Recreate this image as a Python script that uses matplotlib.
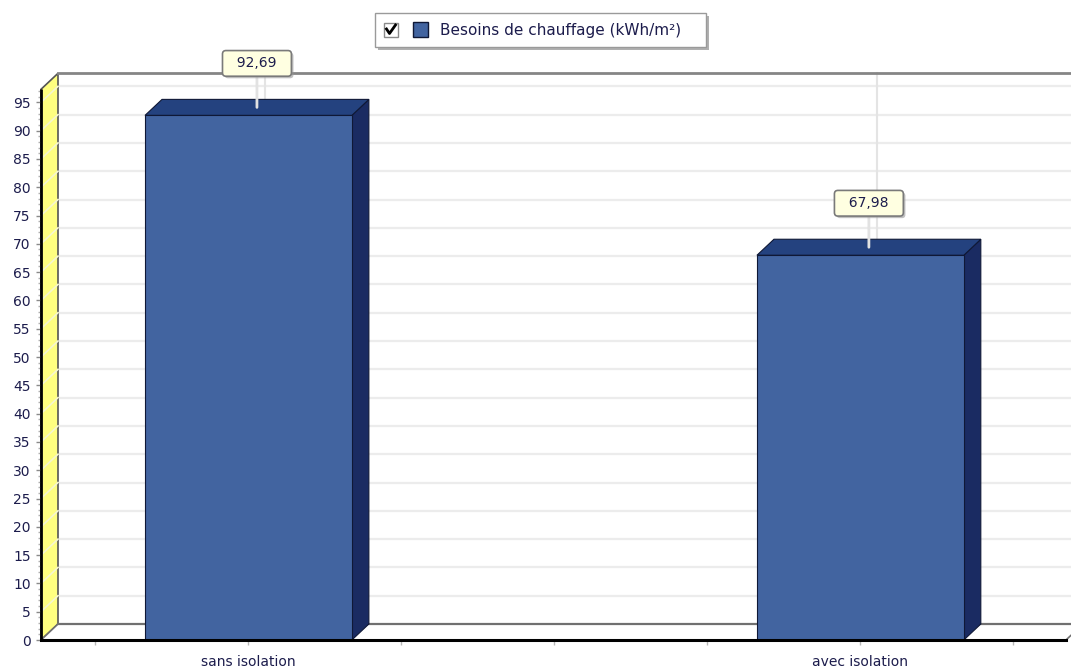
import matplotlib
matplotlib.use("Agg")
import matplotlib.pyplot as plt
from matplotlib.patches import Polygon, Rectangle
from matplotlib.lines import Line2D
from matplotlib.ticker import MultipleLocator, FixedLocator
import matplotlib.patheffects as pe

# data
categories = ["sans isolation", "avec isolation"]
besoins = [92.69, 67.98]
value_labels = ["92,69", "67,98"]
y_ticks = list(range(0, 100, 5))
x_minor_ticks = [-0.25, 0.25, 0.5, 0.75, 1.25]
legend_label = "Besoins de chauffage (kWh/m²)"

W, H = 1071, 671
FRONT = "#4264a0"
TOP = "#24427f"
SIDE = "#1a2b62"
EDGE = "#0f1836"
TXT = "#1c1c4c"

Y_MAX = 97.3
X_MIN, X_MAX = -0.339, 1.336
BAR_W = 0.338
DX = 17 / 612     # fake 3d depth, x data units
DY = 16 / 5.66    # fake 3d depth, y data units
X_RIGHT = X_MAX + 0.1  # back plane runs off the right edge


def fx(px):
    return px / W


def fy(py):
    return 1 - py / H


fig = plt.figure(figsize=(W / 100, H / 100), dpi=100)
ax = fig.add_axes([fx(41), fy(640), fx(1066) - fx(41), fy(89.3) - fy(640)])
ax.set_xlim(X_MIN, X_MAX)
ax.set_ylim(0, Y_MAX)
for s in ax.spines.values():
    s.set_visible(False)
ax.patch.set_visible(False)

x = list(range(len(categories)))

# back wall grid + wall diagonals
for v in y_ticks[1:]:
    ax.plot([X_MIN, X_MIN + DX], [v, v + DY], color="#f6f6d0", lw=1.2,
            clip_on=False, zorder=2)
    ax.plot([X_MIN + DX, X_RIGHT], [v + DY, v + DY], color="#ececec", lw=1.6,
            clip_on=False, zorder=1)
for xi in x:
    ax.plot([xi + DX, xi + DX], [DY, Y_MAX + DY], color="#e4e4e4", lw=1.5,
            clip_on=False, zorder=1)
ax.plot([X_MIN + DX, X_RIGHT], [Y_MAX + DY, Y_MAX + DY], color="#858585",
        lw=2, clip_on=False, zorder=3)

# yellow side wall
wall = Polygon([(X_MIN, 0), (X_MIN, Y_MAX), (X_MIN + DX, Y_MAX + DY), (X_MIN + DX, DY)],
               closed=True, fc="#ffff80", ec="#555555", lw=1.2, clip_on=False, zorder=1.5)
ax.add_patch(wall)
ax.plot([X_MIN, X_MIN], [0, Y_MAX], color="black", lw=2, clip_on=False, zorder=7,
        solid_capstyle="butt")

# floor
floor = Polygon([(X_MIN, 0), (X_MAX, 0), (X_MAX + DX, DY), (X_MIN + DX, DY)],
                closed=True, fc="white", ec="#707070", lw=1.2, clip_on=False, zorder=1.6)
ax.add_patch(floor)
ax.plot([X_MIN + DX, X_RIGHT], [DY, DY], color="#707070", lw=1.6, clip_on=False, zorder=1.6)
ax.plot([X_MIN, X_MAX], [0, 0], color="black", lw=2.2, clip_on=False, zorder=7)

# bars
bars = ax.bar(x, besoins, width=BAR_W, color=FRONT, edgecolor=EDGE, lw=0.8, zorder=5)
for xi, v in zip(x, besoins):
    l, r = xi - BAR_W / 2, xi + BAR_W / 2
    side = Polygon([(r, 0), (r, v), (r + DX, v + DY), (r + DX, DY)], closed=True,
                   fc=SIDE, ec=EDGE, lw=0.8, zorder=4.5, clip_on=False)
    top = Polygon([(l, v), (r, v), (r + DX, v + DY), (l + DX, v + DY)], closed=True,
                  fc=TOP, ec=EDGE, lw=0.8, zorder=4.5, clip_on=False)
    ax.add_patch(side)
    ax.add_patch(top)

# value callouts
for xi, v, lbl in zip(x, besoins, value_labels):
    ann = ax.annotate("  " + lbl + "  ", xy=(xi + DX / 2, v + DY / 2), xytext=(0, 44),
                      textcoords="offset pixels", ha="center", va="center",
                      fontsize=10, color=TXT, annotation_clip=False, zorder=8,
                      bbox=dict(boxstyle="round,pad=0.42,rounding_size=0.25",
                                fc="#ffffe1", ec="#7a7a7a", lw=1.2),
                      arrowprops=dict(arrowstyle="-", color="#e2e2e2", lw=2,
                                      shrinkA=0, shrinkB=0))
    ann.get_bbox_patch().set_path_effects(
        [pe.SimplePatchShadow(offset=(1.5, -1.5), shadow_rgbFace="#999999", alpha=0.6),
         pe.Normal()])

# axes ticks
ax.set_yticks(y_ticks)
ax.yaxis.set_minor_locator(MultipleLocator(1))
ax.tick_params(axis="y", which="major", length=3.5, width=1, color="#8a8a8a",
               pad=4, labelsize=10, labelcolor=TXT)
ax.tick_params(axis="y", which="minor", length=2, width=1, color="#b0b0b0")
ax.set_xticks(x, categories)
ax.xaxis.set_minor_locator(FixedLocator(x_minor_ticks))
ax.tick_params(axis="x", which="both", length=3.5, width=1, color="#b8b8b8",
               pad=7, labelsize=10, labelcolor=TXT)

# legend box (drawn by hand, checkbox + swatch)
fig.add_artist(Rectangle((fx(378), fy(50)), fx(331), fy(16) - fy(50),
                         fc="#b0b0b0", ec="none", zorder=9))
fig.add_artist(Rectangle((fx(375), fy(47)), fx(331), fy(13) - fy(47),
                         fc="white", ec="#9a9a9a", lw=1, zorder=10))
fig.add_artist(Rectangle((fx(384), fy(37)), fx(14), fy(23) - fy(37),
                         fc="white", ec="#8a8a8a", lw=1, zorder=11))
fig.add_artist(Line2D([fx(386.5), fx(389.5), fx(395.5)], [fy(29), fy(33.5), fy(25)],
                      color="black", lw=2, zorder=12))
fig.add_artist(Rectangle((fx(413), fy(37)), fx(15), fy(22) - fy(37),
                         fc=bars.patches[0].get_facecolor(), ec=EDGE, lw=1, zorder=11))
fig.text(fx(440), fy(30), legend_label, ha="left", va="center", fontsize=11,
         color=TXT, zorder=12)

fig.savefig("out.png", dpi=100)
